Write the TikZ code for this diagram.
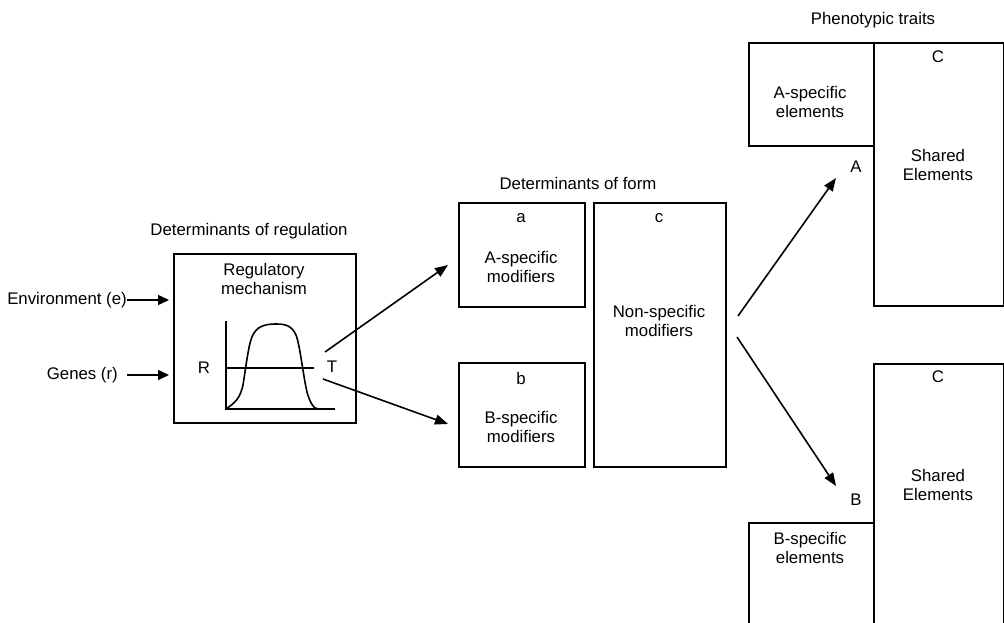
\documentclass[tikz,border=0pt]{standalone}
\usepackage{fontspec}
\setmainfont{Liberation Sans}
\usetikzlibrary{arrows.meta}
\newcommand{\fs}{\fontsize{16.8}{19.5}\selectfont}
\tikzset{
  lbl/.style={font=\fs, inner sep=0pt, align=center},
  box/.style={draw, line width=1.7pt, anchor=north west, inner sep=0pt},
  arr/.style={line width=1.6pt, -{Triangle[length=13pt,width=10pt]}},
  ln/.style={line width=1.6pt}
}
\begin{document}
\begin{tikzpicture}[x=1pt,y=-1pt]
\clip (0,0) rectangle (1004,623);
\fill[white] (0,0) rectangle (1004,623);

% ---------- regulation ----------
\node[lbl] (detreg) at (249,231) {Determinants of regulation};
\node[box, minimum width=182pt, minimum height=169pt] (reg) at (173,253) {};
\node[lbl] (regmech) at (264,279) {Regulatory\\mechanism};
\node[lbl, anchor=east] (env) at (127,300) {Environment (e)};
\node[lbl, anchor=east] (genes) at (118,375) {Genes (r)};
\coordinate (genesstart) at (127,375);
\draw[arr, -{Triangle[length=11pt,width=10pt]}, shorten >=4pt] (env.east) -- (reg.west |- env.east);
\draw[arr, -{Triangle[length=11pt,width=10pt]}, shorten >=4pt] (genesstart) -- (reg.west |- genesstart);

% plot
\coordinate (origin) at (226,409);
\draw[ln] (226,321) -- (origin) -- (335,409);
\draw[ln] (226,368) -- (314,368);
\draw[ln] (origin) .. controls (236,402) and (240,398) .. (243,385)
  .. controls (247,360) and (249,340) .. (254,333)
  .. controls (259,325) and (268,324) .. (276,324)
  .. controls (286,324) and (292,326) .. (296,335)
  .. controls (300,345) and (303,375) .. (307,392)
  .. controls (310,403) and (314,409) .. (318,409);
\node[lbl] (R) at (204,368) {R};
\node[lbl] (T) at (332,367) {T};

% ---------- form ----------
\node[lbl] (detform) at (578,183) {Determinants of form};
\node[box, minimum width=126pt, minimum height=104pt] (boxa) at (458,202) {};
\node[lbl] (la) at (521,218) {a};
\node[lbl] (ta) at (521,267) {A-specific\\modifiers};
\node[box, minimum width=126pt, minimum height=104pt] (boxb) at (458,362) {};
\node[lbl] (lb) at (521,378) {b};
\node[lbl] (tb) at (521,427) {B-specific\\modifiers};
\node[box, minimum width=132pt, minimum height=264pt] (boxc) at (593,202) {};
\node[lbl] (lc) at (659,218) {c};
\node[lbl] (tc) at (659,321) {Non-specific\\modifiers};

\coordinate (TA) at (325,352);
\coordinate (TB) at (323,379);
\coordinate (aIn) at (448,265);
\coordinate (bIn) at (448,424);
\draw[arr] (TA) -- (aIn);
\draw[arr] (TB) -- (bIn);

% ---------- phenotypic traits ----------
\node[lbl] (pheno) at (873,20) {Phenotypic traits};
\node[box, minimum width=125pt, minimum height=103pt] (aspec) at (748,42) {};
\node[lbl] (taspec) at (810,102) {A-specific\\elements};
\node[box, minimum width=130pt, minimum height=263pt] (cA) at (873,42) {};
\node[lbl] (lcA) at (938,57) {C};
\node[lbl] (tcA) at (938,165) {Shared\\Elements};
\node[lbl] (A) at (856,167) {A};

\node[box, minimum width=130pt, minimum height=300pt] (cB) at (873,363) {};
\node[lbl] (lcB) at (938,377) {C};
\node[lbl] (tcB) at (938,485) {Shared\\Elements};
\node[box, minimum width=125pt, minimum height=150pt] (bspec) at (748,522) {};
\node[lbl] (tbspec) at (810,548) {B-specific\\elements};
\node[lbl] (B) at (856,500) {B};

\coordinate (cOutA) at (738,316);
\coordinate (cOutB) at (737,337);
\coordinate (AIn) at (836,178);
\coordinate (BIn) at (836,486);
\draw[arr] (cOutA) -- (AIn);
\draw[arr] (cOutB) -- (BIn);
\end{tikzpicture}
\end{document}
